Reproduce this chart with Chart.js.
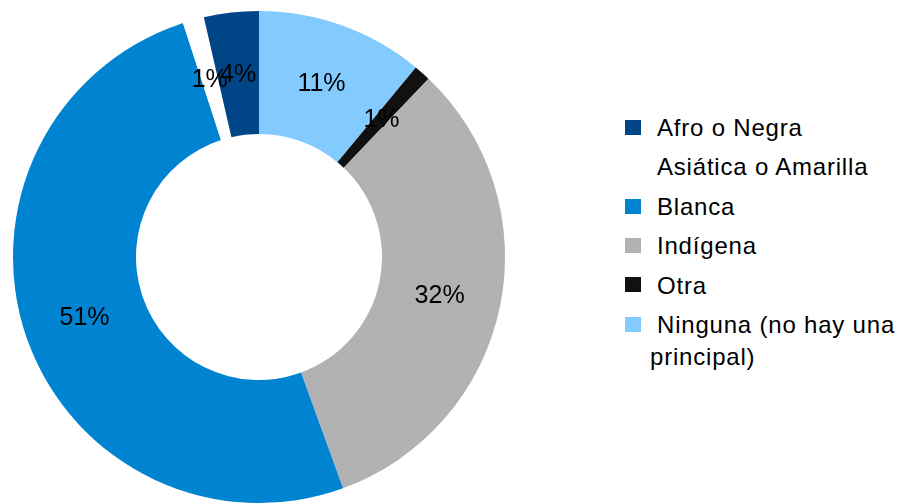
<!DOCTYPE html>
<html>
<head>
<meta charset="utf-8">
<script src="https://cdn.jsdelivr.net/npm/chart.js@4/dist/chart.umd.min.js"></script>
<style>
  html, body { margin: 0; padding: 0; background: #ffffff; overflow: hidden; }
  body { width: 904px; height: 503px; position: relative; font-family: "Liberation Sans", Arial, sans-serif; }
  #wrap { position: absolute; left: 12px; top: 11px; width: 494px; height: 492px; }
  #legend { position: absolute; left: 625px; top: 112px; width: 279px; }
  .item { position: relative; margin-bottom: 7.4px; }
  .mk { position: absolute; left: 0; top: 7.8px; width: 16px; height: 15px; }
  .tx { margin-left: 25px; width: 252px; font-size: 24px; line-height: 32px; color: #000; text-indent: 7px; letter-spacing: 0.8px; }
</style>
</head>
<body>
<div id="wrap"><canvas id="c" width="494" height="492"></canvas></div>
<div id="legend"></div>
<script>
// ---- data (legend order) ----
const categories = ['Afro o Negra', 'Asiática o Amarilla', 'Blanca', 'Indígena', 'Otra', 'Ninguna (no hay una principal)'];
const values = [3.6, 1.4, 50.55, 32.35, 1.1, 11.0];
const colors = ['#004586', '#ffffff', '#0084d1', '#b2b2b2', '#111111', '#83caff'];

const total = values.reduce((a, b) => a + b, 0);
const pctLabels = values.map(v => Math.round(v / total * 100) + '%');

// slices run clockwise from the top in reverse legend order
const order = categories.map((_, i) => i).reverse();

// legend (HTML)
const lg = document.getElementById('legend');
categories.forEach((c, i) => {
  const it = document.createElement('div');
  it.className = 'item';
  const mk = document.createElement('div');
  mk.className = 'mk';
  mk.style.background = colors[i];
  const tx = document.createElement('div');
  tx.className = 'tx';
  tx.textContent = c;
  it.appendChild(mk);
  it.appendChild(tx);
  lg.appendChild(it);
});

const labelPlugin = {
  id: 'pctLabels',
  afterDatasetsDraw(chart) {
    const ctx = chart.ctx;
    const meta = chart.getDatasetMeta(0);
    ctx.save();
    ctx.font = '25px "Liberation Sans", Arial, sans-serif';
    ctx.fillStyle = '#000000';
    ctx.textAlign = 'center';
    ctx.textBaseline = 'middle';
    meta.data.forEach((arc, k) => {
      const p = arc.tooltipPosition();
      ctx.fillText(pctLabels[order[k]], p.x, p.y + 1);
    });
    ctx.restore();
  }
};

new Chart(document.getElementById('c'), {
  type: 'doughnut',
  data: {
    labels: order.map(i => categories[i]),
    datasets: [{
      data: order.map(i => values[i]),
      backgroundColor: order.map(i => colors[i]),
      borderWidth: 0,
      hoverOffset: 0,
      offset: 0
    }]
  },
  options: {
    responsive: false,
    animation: false,
    cutout: '50%',
    rotation: 0,
    layout: { padding: 0 },
    plugins: { legend: { display: false }, tooltip: { enabled: false } },
    events: []
  },
  plugins: [labelPlugin]
});
</script>
</body>
</html>
